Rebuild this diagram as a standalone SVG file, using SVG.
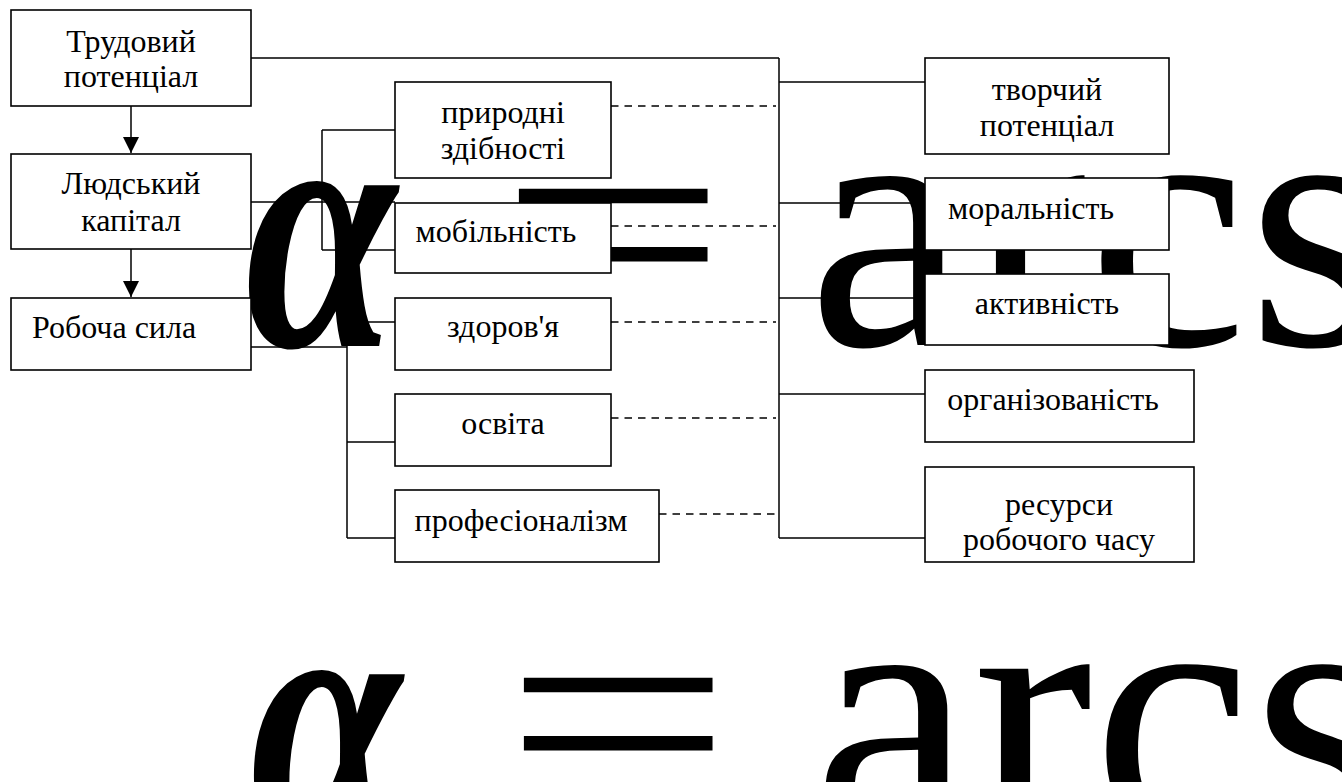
<svg xmlns="http://www.w3.org/2000/svg" width="1342" height="782" viewBox="0 0 1342 782">
<style>
.box{fill:#fff;stroke:#000;stroke-width:1.6}
.t{font-family:"Liberation Serif","Times New Roman",serif;font-size:32px;fill:#000;text-anchor:middle}
.ln{fill:none;stroke:#000;stroke-width:1.5}
.dash{fill:none;stroke:#000;stroke-width:1.5;stroke-dasharray:7.5 6}
.big{font-family:"Liberation Serif","Times New Roman",serif;font-size:360px;fill:#000}
.al{font-style:italic;font-weight:bold;font-size:350px}
</style>
<defs>
<marker id="ah" markerUnits="userSpaceOnUse" markerWidth="18" markerHeight="18" refX="16" refY="8" orient="auto">
<path d="M0,0 L16,8 L0,16 Z" fill="#000"/>
</marker>
</defs>
<g id="formula1">
<text class="big al" x="-6" y="346" transform="translate(250 0) scale(0.78 1)">α</text>
<text class="big" x="511.5" y="345" transform="translate(613,224) scale(1.126,0.807) translate(-613,-224)">=</text>
<text class="big" x="808" y="345">arcs</text>
</g>
<g id="formula2" transform="translate(5,489)">
<text class="big al" x="-6" y="346" transform="translate(250 0) scale(0.78 1)">α</text>
<text class="big" x="511.5" y="345" transform="translate(613,224) scale(1.126,0.807) translate(-613,-224)">=</text>
<text class="big" x="808" y="345">arcs</text>
</g>
<g id="connectors">
<path class="ln" d="M251 58 H779 M779 58 V538 M779 82 H925 M779 203 H925 M779 298 H925 M779 394 H925 M779 538 H925"/>
<path class="ln" d="M131 106 V153" marker-end="url(#ah)"/>
<path class="ln" d="M131 249 V297" marker-end="url(#ah)"/>
<path class="ln" d="M251 202 H395 M322 130 V250 M322 130 H395 M322 250 H395"/>
<path class="ln" d="M251 347 H347 M347 322 V538 M347 322 H395 M347 442 H395 M347 538 H395"/>
<path class="dash" d="M611 106 H776 M611 226 H776 M611 322 H776 M611 418 H776 M659 514 H779"/>
</g>
<g id="n-trudovyi"><rect class="box" x="11" y="10" width="240" height="96"/><text class="t" x="131" y="52">Трудовий</text><text class="t" x="131" y="87">потенціал</text></g>
<g id="n-liudskyi"><rect class="box" x="11" y="154" width="240" height="95"/><text class="t" x="131" y="194">Людський</text><text class="t" x="131" y="231">капітал</text></g>
<g id="n-robocha"><rect class="box" x="11" y="298" width="240" height="72"/><text class="t" x="114" y="338">Робоча сила</text></g>
<g id="n-pryrodni"><rect class="box" x="395" y="82" width="216" height="96"/><text class="t" x="503" y="123">природні</text><text class="t" x="503" y="159">здібності</text></g>
<g id="n-mobilnist"><rect class="box" x="395" y="203" width="216" height="70"/><text class="t" x="496" y="242">мобільність</text></g>
<g id="n-zdorovia"><rect class="box" x="395" y="298" width="216" height="72"/><text class="t" x="503" y="337">здоров'я</text></g>
<g id="n-osvita"><rect class="box" x="395" y="394" width="216" height="72"/><text class="t" x="503" y="434">освіта</text></g>
<g id="n-profesionalizm"><rect class="box" x="395" y="490" width="264" height="72"/><text class="t" x="521" y="531">професіоналізм</text></g>
<g id="n-tvorchyi"><rect class="box" x="925" y="58" width="244" height="96"/><text class="t" x="1047" y="100">творчий</text><text class="t" x="1047" y="136">потенціал</text></g>
<g id="n-moralnist"><rect class="box" x="925" y="178" width="244" height="72"/><text class="t" x="1031" y="219">моральність</text></g>
<g id="n-aktyvnist"><rect class="box" x="925" y="274" width="244" height="71"/><text class="t" x="1047" y="314">активність</text></g>
<g id="n-organizovanist"><rect class="box" x="925" y="370" width="269" height="72"/><text class="t" x="1053" y="410">організованість</text></g>
<g id="n-resursy"><rect class="box" x="925" y="467" width="269" height="95"/><text class="t" x="1059" y="515">ресурси</text><text class="t" x="1059" y="550">робочого часу</text></g>
</svg>
